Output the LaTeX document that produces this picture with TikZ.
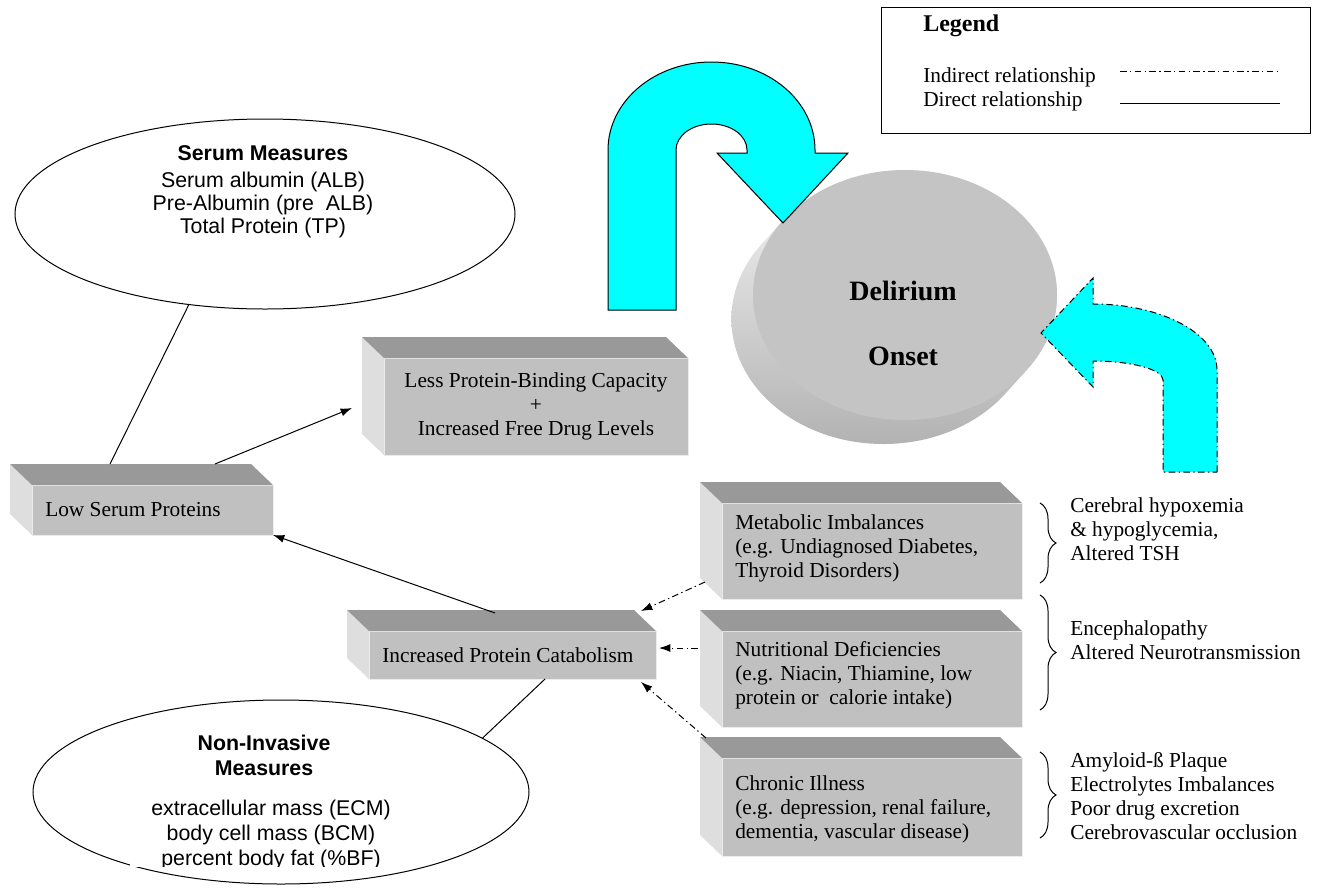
\documentclass[tikz,border=0pt]{standalone}
\usepackage{fontspec}
\setmainfont{Liberation Serif}
\setsansfont{Liberation Sans}
\usetikzlibrary{arrows.meta,shapes.geometric,decorations.pathreplacing,calc}
\definecolor{cyanA}{HTML}{00FFFF}
\definecolor{frontc}{HTML}{C0C0C0}
\definecolor{topc}{HTML}{999999}
\definecolor{leftc}{HTML}{DEDEDE}
\definecolor{diskc}{HTML}{C4C4C4}
\tikzset{
  face/.style={rectangle, fill=frontc, draw=gray!15, line width=0.4pt, inner sep=0pt, outer sep=0pt},
  txt/.style={font=\fontsize{16}{18}\selectfont, inner sep=0pt, align=left},
  lbl/.style={font=\fontsize{16}{18}\selectfont, inner sep=0pt},
  stxt/.style={font=\sffamily\fontsize{16}{17.25}\selectfont, inner sep=0pt, align=center},
  oval/.style={ellipse, draw=black, line width=0.75pt, fill=white, inner sep=0pt},
  conn/.style={line width=0.75pt},
  arr/.style={line width=0.75pt, -{Latex[length=8.5pt,width=6pt]}},
  ddot/.style={dash pattern=on 5pt off 2.5pt on 1pt off 2.5pt},
  brc/.style={line width=0.75pt, decorate, decoration={brace, amplitude=12pt}},
  bigarrow/.style={fill=cyanA, draw=black, line width=0.75pt},
}
\newcommand{\solidbox}[1]{%
  \fill[leftc] (#1.north west) -- ++(-22,-21) -- ([shift={(-22,-21)}]#1.south west) -- (#1.south west) -- cycle;
  \fill[topc] (#1.north west) -- ++(-22,-21) -- ([shift={(-22,-21)}]#1.north east) -- (#1.north east) -- cycle;}
\begin{document}
\begin{tikzpicture}[x=0.75pt,y=-0.75pt]
\useasboundingbox (0,0) rectangle (1320,889);
\fill[white] (0,0) rectangle (1320,889);

% legend
\node[draw, line width=0.75pt, rectangle, inner sep=0pt, minimum width=321.75pt, minimum height=94.5pt, anchor=north west] (legend) at (881,7) {};
\node[font=\bfseries\fontsize{18}{20}\selectfont, inner sep=0pt, anchor=mid west] (legtitle) at (923,28) {Legend};
\node[lbl, anchor=mid west] (legind) at (923,79) {Indirect relationship};
\node[lbl, anchor=mid west] (legdir) at (923,103) {Direct relationship};
\coordinate (i1) at (1120,71); \coordinate (i2) at (1280,71);
\draw[conn, ddot] (i1) -- (i2);
\coordinate (d1) at (1120,103); \coordinate (d2) at (1280,103);
\draw[conn] (d1) -- (d2);

% delirium disk
\shade[top color=gray!8, bottom color=gray!60]
  \foreach \i in {0,...,12}{ ({905-1.8*\i},{295+2.0*\i}) ellipse [x radius=152, y radius=125] };
\node[ellipse, fill=diskc, minimum width=228pt, minimum height=187.5pt, inner sep=0pt] (disk) at (905,295) {};
\node[font=\bfseries\fontsize{21}{25}\selectfont, inner sep=0pt, anchor=mid] (del) at (903,297) {Delirium};
\node[font=\bfseries\fontsize{21}{25}\selectfont, inner sep=0pt, anchor=mid] (ons) at (903,362) {Onset};

% big cyan arrows
\filldraw[bigarrow] (608,310) -- (608,150) arc[start angle=180, end angle=360, x radius=103.5, y radius=88]
  -- (815,153) -- (848,153) -- (783,223) -- (717,153) -- (747,153) -- (747,150)
  arc[start angle=0, end angle=-180, x radius=35.5, y radius=26] -- (676,310) -- cycle;
\filldraw[bigarrow, ddot] (1217,472) -- (1217,370) arc[start angle=0, end angle=-90, x radius=124, y radius=66]
  -- (1093,278) -- (1041,333) -- (1093,387) -- (1093,361)
  arc[start angle=-90, end angle=0, x radius=70, y radius=19] -- (1163,472) -- cycle;

% ellipses
\node[oval, minimum width=375pt, minimum height=142.5pt] (serum) at (265,214) {};
\node[stxt, anchor=north] (serumtxt) at (263,145) {{\bfseries Serum Measures}\\[3pt]Serum albumin (ALB)\\Pre-Albumin (pre\ \ ALB)\\Total Protein (TP)};
\node[oval, minimum width=372pt, minimum height=138pt] (nim) at (281,792) {};
\fill[white] (130,722) rectangle (410,867);
\node[stxt, font=\sffamily\bfseries\fontsize{16}{18.75}\selectfont, anchor=north] (nimhead) at (264,735) {Non-Invasive\\Measures};
\begin{scope}
\clip (130,722) rectangle (410,866);
\node[stxt, font=\sffamily\fontsize{16}{18.75}\selectfont, anchor=north] (nimlist) at (271,800) {extracellular mass (ECM)\\body cell mass (BCM)\\percent body fat (\%BF)};
\end{scope}

% 3D boxes
\node[face, minimum width=180.75pt, minimum height=37.5pt] (lsp) at (152.5,510) {};
\node[face, minimum width=228pt, minimum height=72.75pt] (lpb) at (536,406.5) {};
\node[face, minimum width=215.25pt, minimum height=36pt] (ipc) at (512.5,655) {};
\node[face, minimum width=225pt, minimum height=72pt] (met) at (872,551) {};
\node[face, minimum width=225pt, minimum height=72pt] (nut) at (872,679) {};
\node[face, minimum width=225pt, minimum height=73.5pt] (chr) at (872,807) {};
\solidbox{lsp}\solidbox{lpb}\solidbox{ipc}\solidbox{met}\solidbox{nut}\solidbox{chr}

\node[lbl, anchor=west] (lsptxt) at ([xshift=9.75pt]lsp.west) {Low Serum Proteins};
\node[txt, align=center] (lpbtxt) at (lpb.center) {Less Protein-Binding Capacity\\+\\Increased Free Drug Levels};
\node[lbl, anchor=west] (ipctxt) at ([xshift=9.75pt]ipc.west) {Increased Protein Catabolism};
\node[txt, anchor=west] (mettxt) at ([xshift=9.75pt,yshift=2pt]met.west) {Metabolic Imbalances\\(e.g. Undiagnosed Diabetes,\\Thyroid Disorders)};
\node[txt, anchor=west] (nuttxt) at ([xshift=9.75pt,yshift=3pt]nut.west) {Nutritional Deficiencies\\(e.g. Niacin, Thiamine, low\\protein or\ \ calorie intake)};
\node[txt, anchor=west] (chrtxt) at ([xshift=9.75pt,yshift=-2pt]chr.west) {Chronic Illness\\(e.g. depression, renal failure,\\dementia, vascular disease)};

% connectors
\draw[conn] (serum.230) -- ([shift={(78,-21)}]lsp.north west);
\draw[arr] ([shift={(183,-21)}]lsp.north west) -- ([shift={(-32,50)}]lpb.north west);
\draw[arr] ([shift={(126,-18)}]ipc.north west) -- (lsp.south east);
\draw[conn] ([xshift=24.4pt]ipc.south) -- (nim.15);
\draw[arr, ddot] ([shift={(-17,79)}]met.north west) -- ([shift={(-15,-20)}]ipc.north east);
\draw[arr, ddot] ([shift={(-24,17)}]nut.north west) -- ([shift={(3,-7)}]ipc.east);
\draw[arr, ddot] ([shift={(-16,-20)}]chr.north west) -- ([shift={(-15,3)}]ipc.south east);

% braces and effects
\coordinate (b1t) at (1040,503); \coordinate (b1b) at (1040,583);
\coordinate (b2t) at (1040,595); \coordinate (b2b) at (1040,710);
\coordinate (b3t) at (1040,752); \coordinate (b3b) at (1040,838);
\draw[brc] (b1t) -- (b1b);
\draw[brc] (b2t) -- (b2b);
\draw[brc] (b3t) -- (b3b);
\node[txt, anchor=north west] (eff1) at (1070,497) {Cerebral hypoxemia\\\& hypoglycemia,\\Altered TSH};
\node[txt, anchor=north west] (eff2) at (1070,620) {Encephalopathy\\Altered Neurotransmission};
\node[txt, anchor=north west] (eff3) at (1070,752) {Amyloid-ß Plaque\\Electrolytes Imbalances\\Poor drug excretion\\Cerebrovascular occlusion};
\end{tikzpicture}
\end{document}
